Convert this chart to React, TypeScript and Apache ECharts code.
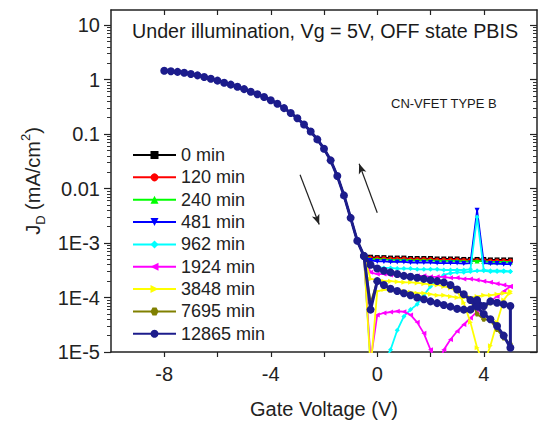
import React, { useEffect, useRef } from "react";
import * as echarts from "echarts";

// ---------- data ----------
// Shared on-state branch (all curves overlap here)
const ON_V = [-8, -7.75, -7.5, -7.25, -7, -6.75, -6.5, -6.25, -6, -5.75, -5.5, -5.25, -5, -4.75, -4.5, -4.25, -4, -3.75, -3.5, -3.25, -3, -2.75, -2.5, -2.25, -2, -1.75, -1.5, -1.25, -1, -0.75, -0.5];
const ON_J = [1.46, 1.43, 1.39, 1.34, 1.27, 1.2, 1.12, 1.04, 0.96, 0.88, 0.81, 0.74, 0.67, 0.6, 0.54, 0.48, 0.42, 0.36, 0.3, 0.245, 0.195, 0.15, 0.112, 0.08, 0.054, 0.033, 0.017, 0.0075, 0.0029, 0.0011, 0.00058];

// Off-state forward sweep
const OFF_V = [-0.25, 0, 0.25, 0.5, 0.75, 1, 1.25, 1.5, 1.75, 2, 2.25, 2.5, 2.75, 3, 3.25, 3.5, 3.75, 4, 4.25, 4.5, 4.75, 5];
// Off-state return sweep
const REV_V = [5, 4.75, 4.5, 4.25, 4, 3.75, 3.5, 3.25, 3, 2.75, 2.5, 2.25, 2, 1.75, 1.5, 1.25, 1, 0.75, 0.5, 0.25, 0, -0.25, -0.5];

const SERIES_NAMES = ["0 min", "120 min", "240 min", "481 min", "962 min", "1924 min", "3848 min", "7695 min", "12865 min"];

const FWD_0 = [5.5e-4, 5.4e-4, 5.4e-4, 5.3e-4, 5.3e-4, 5.3e-4, 5.2e-4, 5.2e-4, 5.2e-4, 5.2e-4, 5.1e-4, 5.1e-4, 5.1e-4, 5.1e-4, 5.0e-4, 5.0e-4, 5.0e-4, 5.0e-4, 4.9e-4, 4.9e-4, 4.9e-4, 4.9e-4];
const FWD_120 = [5.3e-4, 5.2e-4, 5.2e-4, 5.1e-4, 5.1e-4, 5.1e-4, 5.0e-4, 5.0e-4, 5.0e-4, 5.0e-4, 4.9e-4, 4.9e-4, 4.9e-4, 4.9e-4, 4.8e-4, 4.8e-4, 4.8e-4, 4.8e-4, 4.7e-4, 4.7e-4, 4.7e-4, 4.7e-4];
const FWD_240 = [5.1e-4, 5.0e-4, 5.0e-4, 4.9e-4, 4.9e-4, 4.9e-4, 4.8e-4, 4.8e-4, 4.8e-4, 4.8e-4, 4.7e-4, 4.7e-4, 4.7e-4, 4.7e-4, 4.6e-4, 4.6e-4, 4.7e-4, 4.6e-4, 4.5e-4, 4.5e-4, 4.5e-4, 4.5e-4];
const FWD_481 = [4.8e-4, 4.6e-4, 4.6e-4, 4.5e-4, 4.5e-4, 4.5e-4, 4.4e-4, 4.4e-4, 4.4e-4, 4.4e-4, 4.3e-4, 4.3e-4, 4.3e-4, 4.3e-4, 4.2e-4, 4.3e-4, 4.0e-3, 4.3e-4, 4.2e-4, 4.2e-4, 4.1e-4, 4.1e-4];
const FWD_962 = [3.8e-4, 3.6e-4, 3.5e-4, 3.5e-4, 3.4e-4, 3.4e-4, 3.4e-4, 3.3e-4, 3.3e-4, 3.3e-4, 3.3e-4, 3.2e-4, 3.2e-4, 3.2e-4, 3.2e-4, 3.3e-4, 3.0e-3, 3.2e-4, 3.1e-4, 3.1e-4, 3.1e-4, 3.0e-4];
const REV_962 = [3.0e-4, 3.0e-4, 3.0e-4, 3.0e-4, 3.1e-4, 3.1e-4, 3.0e-4, 2.9e-4, 2.9e-4, 2.8e-4, 2.6e-4, 2.2e-4, 1.6e-4, 1.1e-4, 7.5e-5, 6.0e-5, 4.5e-5, 2.5e-5, 1.1e-5, 6e-6, 5e-6, 6e-6, 5.8e-4];
const FWD_1924 = [2.9e-4, 2.7e-4, 2.7e-4, 2.6e-4, 2.6e-4, 2.6e-4, 2.5e-4, 2.5e-4, 2.5e-4, 2.4e-4, 2.4e-4, 2.4e-4, 2.3e-4, 2.3e-4, 2.2e-4, 2.2e-4, 2.1e-4, 2.0e-4, 1.9e-4, 1.8e-4, 1.7e-4, 1.6e-4];
const REV_1924 = [1.6e-4, 1.3e-4, 1.05e-4, 8.5e-5, 7.0e-5, 5.5e-5, 4.2e-5, 3.2e-5, 2.4e-5, 1.7e-5, 1.1e-5, 5e-6, 1.1e-5, 2.2e-5, 3.5e-5, 4.8e-5, 5.5e-5, 5.6e-5, 5.4e-5, 5.2e-5, 4.8e-5, 7e-6, 5.8e-4];
const FWD_3848 = [2.2e-4, 2.1e-4, 2.0e-4, 2.0e-4, 1.95e-4, 1.9e-4, 1.9e-4, 1.85e-4, 1.8e-4, 1.75e-4, 1.7e-4, 1.6e-4, 1.5e-4, 1.3e-4, 8.0e-5, 3.5e-5, 1.2e-5, 6e-6, 1.3e-5, 3.5e-5, 9.0e-5, 1.3e-4];
const REV_3848 = [1.2e-4, 1.2e-4, 1.15e-4, 1.1e-4, 1.1e-4, 1.05e-4, 1.0e-4, 1.0e-4, 1.0e-4, 1.05e-4, 1.1e-4, 1.1e-4, 1.15e-4, 1.2e-4, 1.2e-4, 1.25e-4, 1.3e-4, 1.3e-4, 1.35e-4, 1.4e-4, 1.3e-4, 5e-6, 5.8e-4];
const FWD_7695 = [3.9e-4, 3.3e-4, 3.0e-4, 2.8e-4, 2.6e-4, 2.45e-4, 2.35e-4, 2.25e-4, 2.15e-4, 2.05e-4, 1.95e-4, 1.85e-4, 1.65e-4, 1.4e-4, 1.15e-4, 9.0e-5, 5.0e-5, 4.0e-5, 3.8e-5, 2.6e-5, 1.8e-5, 1.4e-5];
const REV_7695 = [7.2e-5, 7.6e-5, 8.2e-5, 8.0e-5, 6.5e-5, 8.5e-5, 5.8e-5, 6.0e-5, 6.3e-5, 6.9e-5, 7.4e-5, 8.0e-5, 8.6e-5, 9.4e-5, 1.02e-4, 1.12e-4, 1.22e-4, 1.34e-4, 1.47e-4, 1.72e-4, 2.0e-4, 8e-5, 5.8e-4];
const FWD_12865 = [4.0e-4, 3.4e-4, 3.1e-4, 2.9e-4, 2.7e-4, 2.5e-4, 2.4e-4, 2.3e-4, 2.2e-4, 2.1e-4, 2.0e-4, 1.9e-4, 1.7e-4, 1.4e-4, 1.15e-4, 9.0e-5, 6.8e-5, 5.0e-5, 4.0e-5, 3.0e-5, 2.0e-5, 1.2e-5];
const REV_12865 = [7.0e-5, 7.5e-5, 8.0e-5, 8.5e-5, 7.0e-5, 9.0e-5, 6.0e-5, 6.0e-5, 6.2e-5, 6.8e-5, 7.3e-5, 7.9e-5, 8.5e-5, 9.3e-5, 1.0e-4, 1.1e-4, 1.2e-4, 1.32e-4, 1.45e-4, 1.7e-4, 2.0e-4, 6.0e-5, 5.8e-4];

const FORWARD = [FWD_0, FWD_120, FWD_240, FWD_481, FWD_962, FWD_1924, FWD_3848, FWD_7695, FWD_12865];
const REVERSE: number[][] = [[], [], [], [], REV_962, REV_1924, REV_3848, REV_7695, REV_12865];

// Axis ticks
const X_TICKS = [-8, -6, -4, -2, 0, 2, 4];
const X_LABELS = [-8, -4, 0, 4];
const Y_TICKS = [1e-5, 1e-4, 1e-3, 0.01, 0.1, 1, 10];
const Y_TICK_LABELS = ["1E-5", "1E-4", "1E-3", "0.01", "0.1", "1", "10"];
const Y_MINOR: number[] = [];
for (let e = -5; e <= 1; e++) for (let m = 2; m <= 9; m++) {
  const v = m * Math.pow(10, e);
  if (v < 19) Y_MINOR.push(v);
}

// Annotation arrows (data coordinates)
const ARROW_DOWN = [[-2.9, 0.018], [-2.18, 0.0022]];
const ARROW_UP = [[0, 0.0036], [-0.68, 0.0286]];

// ---------- styles ----------
const FONT = "Liberation Sans, Arial, sans-serif";
const COLORS = ["#000000", "#ff0000", "#00ff00", "#0000ff", "#00ffff", "#ff00ff", "#ffff00", "#808000", "#1c1c8c"];
const HEX = "path://M4 0 L12 0 L16 7 L12 14 L4 14 L0 7 Z";
const SYMBOLS = ["rect", "circle", "triangle", "triangle", "diamond", "triangle", "triangle", HEX, "circle"];
const ROTATE = [0, 0, 0, 180, 0, 90, -90, 0, 0];
const AXIS_COLOR = "#222";

function buildOption() {
  const series: any[] = SERIES_NAMES.map((name, si) => {
    const data: number[][] = [];
    ON_V.forEach((v, i) => data.push([v, ON_J[i]]));
    OFF_V.forEach((v, i) => data.push([v, FORWARD[si][i]]));
    REVERSE[si].forEach((y, i) => data.push([REV_V[i], y]));
    const isLast = si === SERIES_NAMES.length - 1;
    const s: any = {
      name,
      type: "line",
      data,
      symbol: SYMBOLS[si],
      symbolRotate: ROTATE[si],
      symbolSize: isLast ? 8 : 5,
      showAllSymbol: true,
      lineStyle: { color: COLORS[si], width: isLast ? 3 : 1.8 },
      itemStyle: { color: COLORS[si] },
      xAxisIndex: 0,
      yAxisIndex: 0,
      z: 2 + si,
    };
    if (isLast) {
      s.markLine = {
        silent: true,
        symbol: ["none", "arrow"],
        symbolSize: [6, 10],
        label: { show: false },
        lineStyle: { color: "#222", width: 1.2, type: "solid" },
        data: [
          [{ coord: ARROW_DOWN[0] }, { coord: ARROW_DOWN[1] }],
          [{ coord: ARROW_UP[0] }, { coord: ARROW_UP[1] }],
        ],
      };
    }
    return s;
  });

  const logBase = { type: "log", logBase: 10, min: 1e-5, max: 19, gridIndex: 0, splitLine: { show: false } };

  return {
    animation: false,
    backgroundColor: "#ffffff",
    grid: { left: 111, right: 2, top: 10, bottom: 71, containLabel: false },
    legend: {
      orient: "vertical",
      left: 132,
      top: 146,
      padding: 0,
      itemWidth: 43,
      itemHeight: 10,
      itemGap: 4.35,
      data: SERIES_NAMES,
      textStyle: { fontSize: 18, fontFamily: FONT, color: "#222" },
      selectedMode: false,
    },
    xAxis: [
      {
        type: "value",
        min: -10,
        max: 6,
        gridIndex: 0,
        position: "bottom",
        axisLine: { show: true, onZero: false, lineStyle: { color: AXIS_COLOR, width: 1.5 } },
        axisTick: { show: true, inside: false, length: 5, customValues: X_TICKS, lineStyle: { color: AXIS_COLOR, width: 1.2 } },
        axisLabel: { show: true, customValues: X_LABELS, margin: 12, fontSize: 20, fontFamily: FONT, color: "#222" },
        splitLine: { show: false },
        name: "Gate Voltage (V)",
        nameLocation: "middle",
        nameGap: 47,
        nameTextStyle: { fontSize: 20, fontFamily: FONT, color: "#222" },
      },
      {
        type: "value",
        min: -10,
        max: 6,
        gridIndex: 0,
        position: "top",
        axisLine: { show: true, onZero: false, lineStyle: { color: AXIS_COLOR, width: 1.5 } },
        axisTick: { show: true, inside: true, length: 5, customValues: X_TICKS, lineStyle: { color: AXIS_COLOR, width: 1.2 } },
        axisLabel: { show: false },
        splitLine: { show: false },
      },
    ],
    yAxis: [
      {
        ...logBase,
        position: "left",
        axisLine: { show: true, onZero: false, lineStyle: { color: AXIS_COLOR, width: 1.5 } },
        axisTick: { show: true, inside: false, length: 7, customValues: Y_TICKS, lineStyle: { color: AXIS_COLOR, width: 1.2 } },
        axisLabel: {
          show: true,
          customValues: Y_TICKS,
          margin: 11,
          fontSize: 20,
          fontFamily: FONT,
          color: "#222",
          formatter: (v: number) => Y_TICK_LABELS[Math.round(Math.log10(v)) + 5] ?? "",
        },
        name: "{m|J}{sub|D}{m| (mA/cm}{sup|2}{m|)}",
        nameLocation: "middle",
        nameGap: 64,
        nameRotate: 90,
        nameTextStyle: {
          fontFamily: FONT,
          color: "#222",
          rich: {
            m: { fontSize: 20, fontFamily: FONT, color: "#222", lineHeight: 28, verticalAlign: "middle" },
            sub: { fontSize: 13, fontFamily: FONT, color: "#222", lineHeight: 13, verticalAlign: "bottom" },
            sup: { fontSize: 13, fontFamily: FONT, color: "#222", lineHeight: 13, verticalAlign: "top" },
          },
        },
      },
      {
        ...logBase,
        position: "left",
        axisLine: { show: false, onZero: false },
        axisTick: { show: true, inside: false, length: 4, customValues: Y_MINOR, lineStyle: { color: "#333", width: 1 } },
        axisLabel: { show: false },
      },
      {
        ...logBase,
        position: "right",
        axisLine: { show: true, onZero: false, lineStyle: { color: AXIS_COLOR, width: 1.5 } },
        axisTick: { show: true, inside: true, length: 7, customValues: Y_TICKS, lineStyle: { color: AXIS_COLOR, width: 1.2 } },
        axisLabel: { show: false },
      },
      {
        ...logBase,
        position: "right",
        axisLine: { show: false, onZero: false },
        axisTick: { show: true, inside: true, length: 4, customValues: Y_MINOR, lineStyle: { color: "#333", width: 1 } },
        axisLabel: { show: false },
      },
    ],
    graphic: [
      {
        type: "text",
        x: 132,
        y: 31,
        z: 100,
        style: {
          text: "Under illumination, Vg = 5V, OFF state PBIS",
          fontSize: 19.7,
          fontFamily: FONT,
          fill: "#1a1a1a",
          verticalAlign: "middle",
        },
      },
      {
        type: "text",
        x: 391,
        y: 103,
        z: 100,
        style: {
          text: "CN-VFET TYPE B",
          fontSize: 13,
          fontFamily: FONT,
          fill: "#1a1a1a",
          verticalAlign: "middle",
        },
      },
    ],
    series,
  };
}

export default function App() {
  const ref = useRef<HTMLDivElement>(null);
  useEffect(() => {
    if (!ref.current) return;
    const chart = echarts.init(ref.current, null, { renderer: "svg" });
    chart.setOption(buildOption() as any);
    return () => chart.dispose();
  }, []);
  return (
    <div
      ref={ref}
      style={{ position: "absolute", left: 0, top: 0, width: 539, height: 424, background: "#fff" }}
    />
  );
}
